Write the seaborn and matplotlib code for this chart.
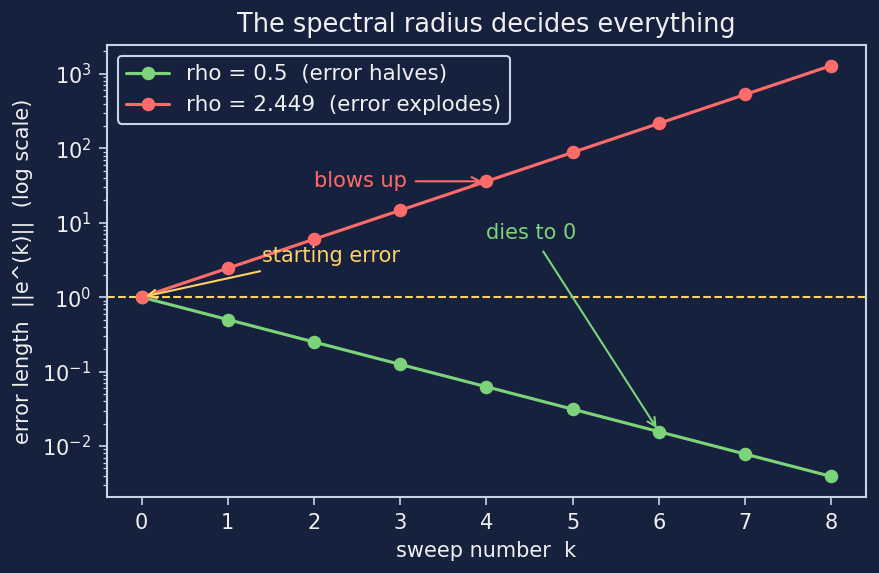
import matplotlib
matplotlib.use("Agg")
import matplotlib.pyplot as plt
import pandas as pd
import seaborn as sns

# sweep numbers and error lengths
sweeps = [0, 1, 2, 3, 4, 5, 6, 7, 8]
err_halves = [1.0, 0.5, 0.25, 0.125, 0.0625, 0.03125, 0.0156, 0.0078, 0.0039]
err_explodes = [1.0, 2.449, 6.0, 14.7, 36.0, 88.2, 216.0, 529.0, 1295.0]
series_labels = ["rho = 0.5  (error halves)", "rho = 2.449  (error explodes)"]

BG = "#16213e"
GREEN = "#7dd37a"
RED = "#ff6b6b"
YELLOW = "#ffd166"
EDGE = "#c9d3e6"
TEXT = "#f0f0f0"

sns.set_style("dark")
plt.rcParams["font.family"] = ["DejaVu Sans"]

fig = plt.figure(figsize=(880 / 150, 573 / 150), dpi=150, facecolor=BG)
ax = fig.add_axes([0.1216, 0.1326, 0.8624, 0.7889])
ax.set_facecolor(BG)

df_halves = pd.DataFrame({"k": sweeps, "err": err_halves})
df_explodes = pd.DataFrame({"k": sweeps, "err": err_explodes})

sns.lineplot(data=df_halves, x="k", y="err", ax=ax, color=GREEN, marker="o",
             markersize=6.5, markeredgewidth=0, linewidth=1.5, label=series_labels[0])
sns.lineplot(data=df_explodes, x="k", y="err", ax=ax, color=RED, marker="o",
             markersize=6.5, markeredgewidth=0, linewidth=1.5, label=series_labels[1])

ax.set_yscale("log")
ax.axhline(1.0, color=YELLOW, linestyle="--", linewidth=1.0, zorder=1)
ax.grid(False)

ax.annotate("blows up", xy=(4, err_explodes[4]), xytext=(2.0, 30),
            color=RED, fontsize=10,
            arrowprops=dict(arrowstyle="->", color=RED, lw=1.0))
ax.annotate("dies to 0", xy=(6, err_halves[6]), xytext=(4.0, 6),
            color=GREEN, fontsize=10,
            arrowprops=dict(arrowstyle="->", color=GREEN, lw=1.0))
ax.annotate("starting error", xy=(0, 1.0), xytext=(1.4, 3),
            color=YELLOW, fontsize=10,
            arrowprops=dict(arrowstyle="->", color=YELLOW, lw=1.0))

ax.set_title("The spectral radius decides everything", color=TEXT, fontsize=12.3)
ax.set_xlabel("sweep number  k", color=TEXT, fontsize=10)
ax.set_ylabel("error length  ||e^(k)||  (log scale)", color=TEXT, fontsize=10)
ax.set_xticks(sweeps)

ax.tick_params(axis="both", which="both", colors=EDGE, labelcolor=TEXT, labelsize=10)
ax.tick_params(axis="both", which="major", length=4, width=0.8, bottom=True, left=True)
ax.tick_params(axis="y", which="minor", length=2, width=0.6, left=True)
for spine in ax.spines.values():
    spine.set_visible(True)
    spine.set_color(EDGE)
    spine.set_linewidth(1.0)

leg = ax.legend(loc="upper left", fontsize=10.3, facecolor=BG, edgecolor=EDGE,
                framealpha=1.0)
for t in leg.get_texts():
    t.set_color(TEXT)

fig.savefig("out.png", dpi=150, facecolor=BG)
